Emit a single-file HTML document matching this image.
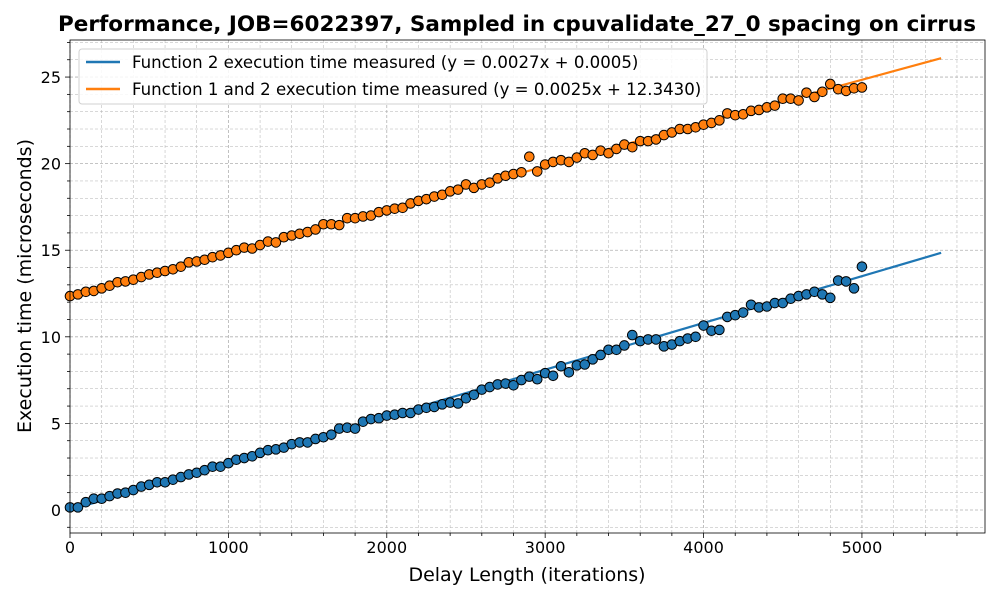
<!DOCTYPE html>
<html><head><meta charset="utf-8"><style>
body{margin:0;background:#fff;font-family:"Liberation Sans","DejaVu Sans",sans-serif}
svg text{font-family:"DejaVu Sans","Liberation Sans",sans-serif}
</style></head><body>
<svg id="c" width="1000" height="600" xmlns="http://www.w3.org/2000/svg"></svg>
<script>
const blueY=[0.15,0.15,0.45,0.65,0.65,0.8,0.95,1.0,1.15,1.35,1.45,1.6,1.6,1.75,1.9,2.05,2.15,2.3,2.5,2.5,2.7,2.9,3.0,3.1,3.3,3.45,3.5,3.6,3.8,3.9,3.9,4.1,4.2,4.35,4.7,4.75,4.7,5.1,5.25,5.3,5.45,5.5,5.6,5.6,5.8,5.9,5.95,6.1,6.2,6.15,6.45,6.65,6.95,7.1,7.25,7.3,7.2,7.5,7.7,7.55,7.9,7.75,8.3,7.95,8.35,8.4,8.7,8.95,9.25,9.25,9.5,10.1,9.75,9.85,9.85,9.45,9.55,9.75,9.9,10.0,10.65,10.35,10.4,11.15,11.25,11.4,11.85,11.7,11.75,11.95,11.95,12.2,12.35,12.45,12.6,12.45,12.25,13.25,13.2,12.8,14.05];
const orangeY=[12.35,12.45,12.6,12.65,12.8,12.95,13.15,13.2,13.3,13.45,13.6,13.7,13.8,13.9,14.05,14.3,14.35,14.45,14.6,14.7,14.85,15.0,15.15,15.1,15.3,15.5,15.45,15.75,15.85,15.95,16.05,16.2,16.5,16.5,16.45,16.85,16.85,16.95,17.0,17.2,17.3,17.4,17.45,17.7,17.85,17.95,18.1,18.2,18.4,18.5,18.8,18.6,18.8,18.9,19.15,19.3,19.4,19.5,20.4,19.55,19.95,20.1,20.2,20.1,20.35,20.6,20.5,20.75,20.6,20.85,21.1,20.95,21.3,21.3,21.4,21.65,21.8,22.0,22.0,22.1,22.25,22.35,22.5,22.9,22.8,22.85,23.05,23.1,23.25,23.35,23.75,23.75,23.65,24.1,23.85,24.15,24.6,24.3,24.2,24.35,24.4];
const xStep=50;
const fitBlue=[0.0027,0.0005], fitOrange=[0.0025,12.3430];
const xTicks=[0,1000,2000,3000,4000,5000], yTicks=[0,5,10,15,20,25];
const NS="http://www.w3.org/2000/svg", svg=document.getElementById('c');
const L=70,R=985,T=40,B=533, xmin=0,xmax=5777,ymin=-1.33,ymax=27.14;
const sx=v=>L+(v-xmin)/(xmax-xmin)*(R-L), sy=v=>B-(v-ymin)/(ymax-ymin)*(B-T);
function el(t,a,p){const e=document.createElementNS(NS,t);for(const k in a)e.setAttribute(k,a[k]);(p||svg).appendChild(e);return e;}
for(let v=0;v<=xmax;v+=200){const g=el('line',{x1:sx(v),x2:sx(v),y1:T,y2:B,stroke:'#b0b0b0','stroke-width':v%1000==0?0.8:0.5,'stroke-dasharray':'3,2'});

el('line',{x1:sx(v),x2:sx(v),y1:B,y2:B+(v%1000==0?5:3),stroke:'#000','stroke-width':0.8});}
for(let v=-1;v<=27;v++){const g=el('line',{x1:L,x2:R,y1:sy(v),y2:sy(v),stroke:'#b0b0b0','stroke-width':v%5==0?0.8:0.5,'stroke-dasharray':'3,2'});

el('line',{x1:L,x2:L-(v%5==0?5:3),y1:sy(v),y2:sy(v),stroke:'#000','stroke-width':0.8});}
xTicks.forEach(v=>{const t=el('text',{x:sx(v),y:B+20,'text-anchor':'middle','font-size':16});t.textContent=v;
});
yTicks.forEach(v=>{const t=el('text',{x:L-9,y:sy(v)+6,'text-anchor':'end','font-size':16});t.textContent=v;
});
function fit(f,c,n){const l=el('line',{x1:sx(0),y1:sy(f[1]),x2:sx(5500),y2:sy(f[0]*5500+f[1]),stroke:c,'stroke-width':2.2});
}
function pts(arr,c,n){arr.forEach((v,i)=>{const p=el('circle',{cx:sx(i*xStep),cy:sy(v),r:4.8,fill:c,stroke:'#000','stroke-width':1});
});}
fit(fitBlue,'#1f77b4','fit-line-function-2');fit(fitOrange,'#ff7f0e','fit-line-function-1-and-2');
pts(blueY,'#1f77b4','point-function-2');pts(orangeY,'#ff7f0e','point-function-1-and-2');
const fr=el('rect',{x:L,y:T,width:R-L,height:B-T,fill:'none',stroke:'#000','stroke-width':0.8});

</script>
<svg style="position:absolute;left:0;top:0" width="1000" height="600" xmlns="http://www.w3.org/2000/svg">
<text x="517" y="31" text-anchor="middle" font-size="21.5" font-weight="bold">Performance, JOB=6022397, Sampled in cpuvalidate_27_0 spacing on cirrus</text>
<text x="527" y="581" text-anchor="middle" font-size="19">Delay Length (iterations)</text>
<text transform="translate(31,286) rotate(-90)" text-anchor="middle" font-size="19">Execution time (microseconds)</text>
<g>
<rect x="79" y="49" width="628" height="55" rx="3" fill="#fff" fill-opacity="0.85" stroke="#d0d0d0"/>
<g><line x1="86" x2="120" y1="62" y2="62" stroke="#1f77b4" stroke-width="2.5"/>
<text x="132" y="68" font-size="16.6">Function 2 execution time measured (y = 0.0027x + 0.0005)</text></g>
<g><line x1="86" x2="120" y1="89" y2="89" stroke="#ff7f0e" stroke-width="2.5"/>
<text x="132" y="95" font-size="16.6">Function 1 and 2 execution time measured (y = 0.0025x + 12.3430)</text></g>
</g>
</svg>
</body></html>
